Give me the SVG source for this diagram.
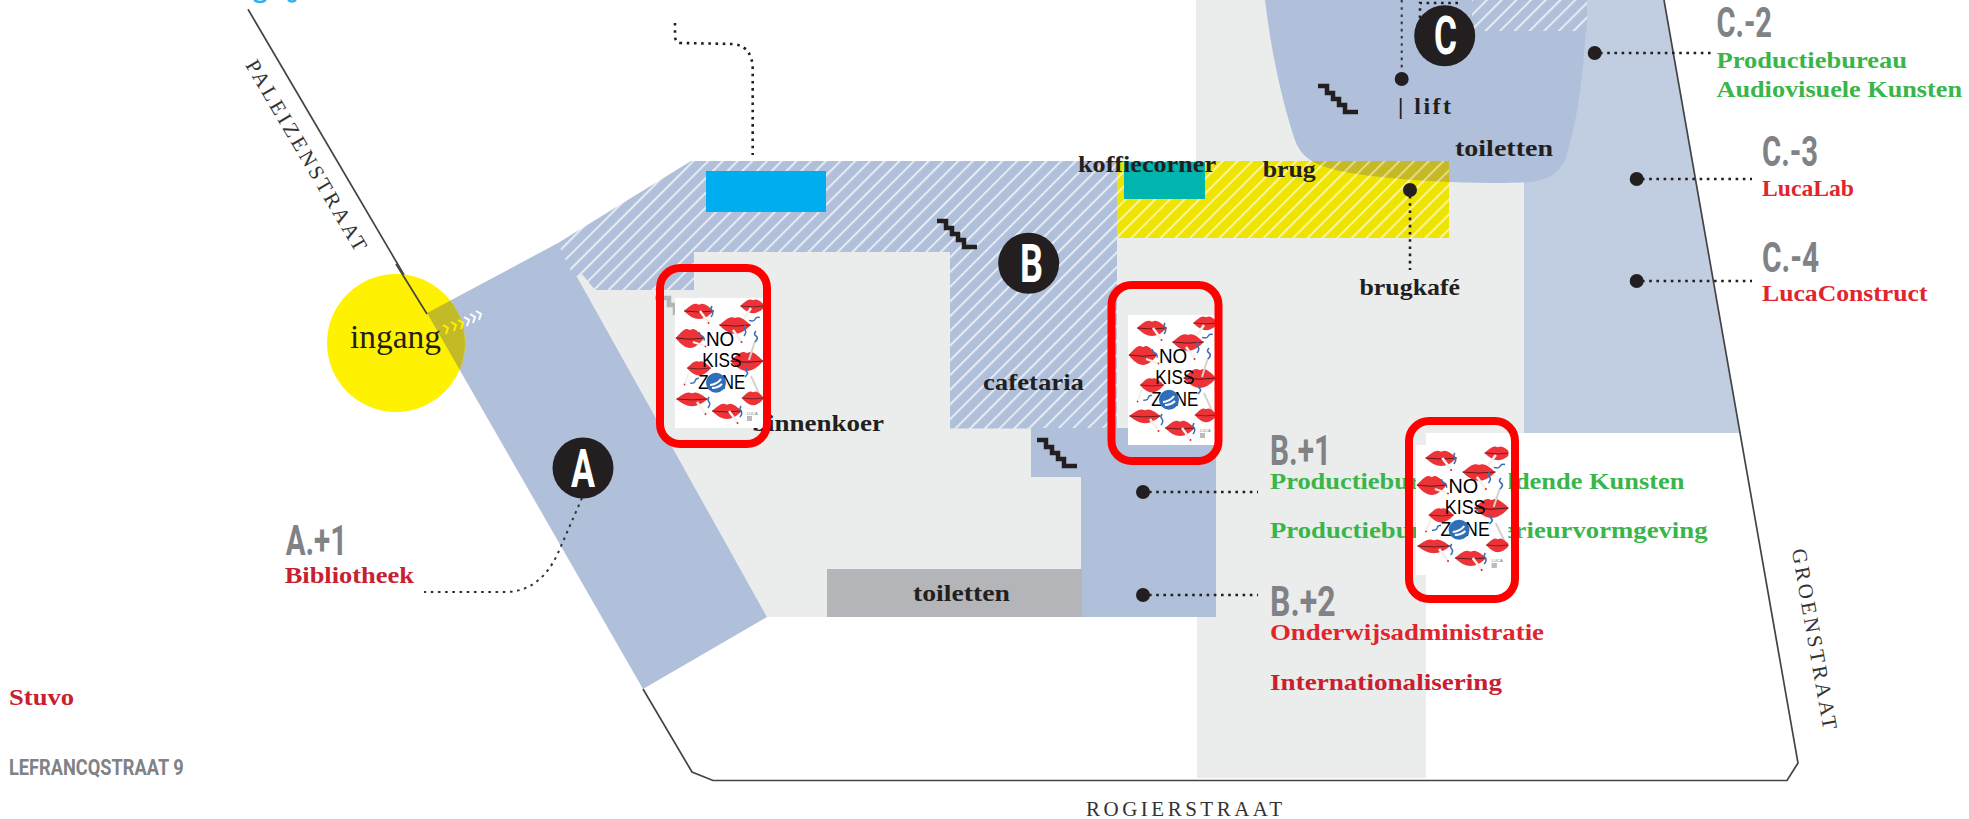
<svg xmlns="http://www.w3.org/2000/svg" xmlns:xlink="http://www.w3.org/1999/xlink" width="1969" height="819" viewBox="0 0 1969 819">
<style>
.s{font-family:"Liberation Serif","DejaVu Serif",serif;font-weight:700;fill:#231f20;font-size:24px}
.g{fill:#39b54a}
.r{fill:#e0252f}
.r2{fill:#c8202f}
.c{font-family:"Liberation Sans Narrow","Roboto","Liberation Sans",sans-serif;font-weight:700;fill:#808285;font-size:42px}
.st{font-family:"Liberation Serif","DejaVu Serif",serif;fill:#333;font-size:21px}
.let{font-family:"Liberation Sans Narrow","Roboto","Liberation Sans",sans-serif;font-weight:700;fill:#fff;font-size:54px}
.dot{fill:none;stroke:#231f20;stroke-width:2.6;stroke-dasharray:2.6 4.6}
.thin{stroke-width:2;stroke:#333}
.n{fill:#231f20}
.line{fill:none;stroke:#444;stroke-width:1.7}
.stair{fill:none;stroke:#231f20;stroke-width:4.5}
.rim{fill:none;stroke:#f00;stroke-width:8}
.ch{fill:none;stroke-width:2}
.pt{font-family:"Liberation Sans",Arial,sans-serif;fill:#000;font-size:20px}
</style>
<defs>
<pattern id="hb" width="10.4" height="10.4" patternUnits="userSpaceOnUse" patternTransform="rotate(45)"><rect width="10.4" height="10.4" fill="#b1c0da"/><rect width="2" height="10.4" fill="#e6ebf3"/></pattern>
<pattern id="hy" width="10.4" height="10.4" patternUnits="userSpaceOnUse" patternTransform="rotate(45)"><rect width="10.4" height="10.4" fill="#efe300"/><rect width="2" height="10.4" fill="#f9f4a0"/></pattern>
<pattern id="ho" width="10.4" height="10.4" patternUnits="userSpaceOnUse" patternTransform="rotate(45)"><rect width="10.4" height="10.4" fill="#c6b926"/><rect width="2" height="10.4" fill="#e3dc85"/></pattern>
<clipPath id="cDark"><path d="M1265,0C1272,60 1285,110 1295,140C1303,165 1330,172 1390,178C1430,182 1470,183 1505,183C1540,183 1555,180 1565,160C1578,120 1585,70 1587,0Z"/></clipPath>
<clipPath id="cBand"><polygon points="427,313 558,243 767,617 643,689"/></clipPath>
<clipPath id="cPoster"><rect width="88" height="130"/></clipPath>
<path id="stair" class="stair" d="M0,2H9V9H15V15H21V21H27V28H40"/>
<g id="lip"><path d="M-15,0C-10,-4 -6,-8 -2,-7Q0,-6 2,-7C6,-8 11,-3 15,0C10,5 5,8 0,8C-5,8 -10,5 -15,0Z" fill="#ee3338"/><path d="M-15,0Q0,2 15,0" fill="none" stroke="#4a1518" stroke-width=".8"/></g>
<g id="cig"><path d="M0,0L8,11" stroke="#f4f0ec" stroke-width="2.4"/><circle cx="8.5" cy="12" r="1" fill="#e0252f"/><path d="M12,-5q-2,3 0,5t-1,6" fill="none" stroke="#3a6fb8" stroke-width="1.5"/></g>
<g id="poster">
<rect width="88" height="130" fill="#fff"/>
<g clip-path="url(#cPoster)">
<use href="#lip" transform="translate(24,13)"/><use href="#cig" transform="translate(25,13)"/>
<use href="#lip" transform="translate(78,8) scale(.85,.9)"/><use href="#cig" transform="translate(76,10) rotate(70)"/>
<use href="#lip" transform="translate(60,27) scale(1.05,1.1)"/><use href="#cig" transform="translate(58,32) rotate(0)"/>
<use href="#lip" transform="translate(15,40) scale(.95,1.25)"/><use href="#cig" transform="translate(18,44) rotate(-35) scale(.9)"/>
<use href="#lip" transform="translate(72,63) scale(1.1,1.25)"/><use href="#lip" transform="translate(24,70) scale(.8,.95)"/><use href="#cig" transform="translate(14,74) rotate(55) scale(.9)"/>
<path d="M80,43L74,62M76,78L86,100" stroke="#d8d2cc" stroke-width="2"/><path d="M81,33q-3,3 0,5t-1,6M72,70q-2,3 0,4t-2,5" fill="none" stroke="#3a6fb8" stroke-width="1.6"/>
<use href="#lip" transform="translate(17,101) scale(1.05,.9)"/><use href="#cig" transform="translate(22,104)"/>
<use href="#lip" transform="translate(78,100) scale(.75,.9)"/><use href="#lip" transform="translate(52,113)"/><use href="#cig" transform="translate(54,113) rotate(0)"/>
</g>
<text class="pt" x="31" y="47.7" textLength="28.3" lengthAdjust="spacingAndGlyphs">NO</text>
<text class="pt" x="27.3" y="69" textLength="39" lengthAdjust="spacingAndGlyphs">KISS</text>
<text class="pt" x="23.3" y="91" textLength="47" lengthAdjust="spacingAndGlyphs">ZONE</text>
<circle cx="41" cy="84.7" r="10" fill="#2f6eba"/><path d="M35,87C39,87 44,84 46,81M37,90C41,90 45,88 47,86" fill="none" stroke="#fff" stroke-width="2"/>
<text x="72" y="117" font-family="Liberation Sans,sans-serif" font-size="4" fill="#777">LUCA</text><rect x="72" y="118" width="5" height="5" fill="#bbb"/>
</g>
</defs>

<g id="building">
<polygon id="courtyard" fill="#ebedec" points="574,278 700,200 1117,200 1117,238 1196,238 1196,0 1524,0 1524,433 1426,433 1426,778 1197,778 1197,617 767,617"/>
<polygon id="wing-c-light" fill="#c1cde0" points="1524,0 1664,0 1740,433 1524,433"/>
<polygon id="wing-a" fill="#b1c0da" points="427,313 558,243 767,617 643,689"/>
<polygon id="hatch-b" fill="url(#hb)" points="691,161 1117,161 1117,428.500 950,428.500 950,252 694,252 694,290 595,290 582,274 574,278 558,243"/>
<polygon id="wing-b" fill="#b1c0da" points="1031,428 1216,428 1216,617 1081,617 1081,477 1031,477"/>
<rect id="toilet-b" x="827" y="569" width="255" height="48" fill="#b3b5b8"/>
<path id="wing-c" fill="#b1c0da" d="M1265,0C1272,60 1285,110 1295,140C1303,165 1330,172 1390,178C1430,182 1470,183 1505,183C1540,183 1555,180 1565,160C1578,120 1585,70 1587,0Z"/>
<rect id="hatch-c" x="1472" y="0" width="115" height="31" fill="url(#hb)"/>
<rect id="bridge" x="1117" y="161" width="332" height="77" fill="url(#hy)"/>
<rect id="bridge-overlap" x="1117" y="161" width="332" height="77" fill="url(#ho)" clip-path="url(#cDark)"/>
<rect id="cyan-room" x="706" y="171" width="120" height="41" fill="#00aeef"/>
<rect id="teal-room" x="1124" y="162" width="81" height="37" fill="#00b5ad"/>
<path class="line" d="M248,9.300L427,314"/>
<path class="line" d="M643,689L692,772L713,780.500H1787L1798,763L1664,0"/>
<use href="#stair" x="937" y="219"/>
<use href="#stair" x="1037" y="438"/>
<use href="#stair" x="1318" y="84"/>
<path d="M655,298H669V305H675V315" fill="none" stroke="#b3b5b8" stroke-width="4.500"/>
</g>

<path id="top-fragments" d="M254,0Q260,4 266,0M288,0Q292,3 296,0" fill="none" stroke="#2bb3ee" stroke-width="2.400"/>

<g id="connectors">
<path class="dot" d="M675,23V36Q675,43 682,43L733,44Q752,46 752.700,68V155"/>
<path class="dot thin" d="M1401.700,0V72"/>
<path class="dot" d="M1420,18V3H1458"/>
<path class="dot" d="M1600,53H1711"/>
<path class="dot" d="M1642,179H1752"/>
<path class="dot" d="M1642,281H1752"/>
<path class="dot" d="M1410,196V270"/>
<path class="dot" d="M1149,492H1258"/>
<path class="dot" d="M1149,595H1258"/>
<path class="dot thin" d="M582,498L558,553Q540,592 505,592H424"/>
</g>

<g id="node-ingang">
<circle cx="396" cy="343" r="69" fill="#fff200"/>
<circle cx="396" cy="343" r="69" fill="#c3ba27" clip-path="url(#cBand)"/>
<path class="line" d="M396,264L427,314" stroke="#222"/>
<text x="350" y="348" font-family="Liberation Serif,serif" font-size="33" fill="#231f20" textLength="91" lengthAdjust="spacingAndGlyphs">ingang</text>
<g class="ch" stroke="#fff200"><path d="M443,325l5,3l-2,6M451,322l5,3l-2,6M458,320l5,3l-2,6"/></g>
<g class="ch" stroke="#fff"><path d="M464,317l5,3l-2,6M470,314l5,3l-2,6M476,311l5,3l-2,6"/></g>
</g>

<g id="streets">
<text class="st" transform="translate(245,65) rotate(59.500)" textLength="218" lengthAdjust="spacing">PALEIZENSTRAAT</text>
<text class="st" transform="translate(1791.700,550) rotate(80)" textLength="183" lengthAdjust="spacing">GROENSTRAAT</text>
<text class="st" x="1086" y="816" textLength="196" lengthAdjust="spacing">ROGIERSTRAAT</text>
</g>

<g id="node-A"><circle cx="583" cy="468" r="30.500" class="n"/><text class="let" x="571" y="487" textLength="24" lengthAdjust="spacingAndGlyphs">A</text></g>
<g id="node-B"><circle cx="1028.700" cy="263.300" r="30.500" class="n"/><text class="let" x="1020" y="282" textLength="23" lengthAdjust="spacingAndGlyphs">B</text></g>
<g id="node-C"><circle cx="1444.700" cy="35.700" r="30.500" class="n"/><text class="let" x="1434" y="54" textLength="23" lengthAdjust="spacingAndGlyphs">C</text></g>

<g id="anchors" class="n">
<circle cx="1401.700" cy="79" r="7"/><circle cx="1594.700" cy="53" r="7"/><circle cx="1636.700" cy="179" r="7"/><circle cx="1636.700" cy="281" r="7"/><circle cx="1410" cy="190" r="7"/><circle cx="1143" cy="492" r="7"/><circle cx="1143" cy="595" r="7"/>
</g>

<g id="places">
<text class="s" x="1078" y="172" textLength="138" lengthAdjust="spacingAndGlyphs">koffiecorner</text>
<text class="s" x="1262.700" y="176.700" textLength="53" lengthAdjust="spacingAndGlyphs">brug</text>
<text class="s" x="1455" y="155.700" textLength="98" lengthAdjust="spacingAndGlyphs">toiletten</text>
<text class="s" x="1398" y="114" textLength="53" lengthAdjust="spacing">| lift</text>
<text class="s" x="1359.500" y="295" textLength="100.500" lengthAdjust="spacingAndGlyphs">brugkafé</text>
<text class="s" x="983" y="390" textLength="101" lengthAdjust="spacingAndGlyphs">cafetaria</text>
<text class="s" x="752" y="431" textLength="132" lengthAdjust="spacingAndGlyphs">binnenkoer</text>
<text class="s" x="913" y="601" textLength="97" lengthAdjust="spacingAndGlyphs">toiletten</text>
</g>

<g id="label-C2"><text class="c" x="1716.500" y="36.500" textLength="55.500" lengthAdjust="spacingAndGlyphs">C.-2</text><text class="s g" x="1716.500" y="67.700" textLength="190.500" lengthAdjust="spacingAndGlyphs">Productiebureau</text><text class="s g" x="1716.500" y="96.700" textLength="245.500" lengthAdjust="spacingAndGlyphs">Audiovisuele Kunsten</text></g>
<g id="label-C3"><text class="c" x="1762" y="165.500" textLength="56" lengthAdjust="spacingAndGlyphs">C.-3</text><text class="s r" x="1762" y="196" textLength="92" lengthAdjust="spacingAndGlyphs">LucaLab</text></g>
<g id="label-C4"><text class="c" x="1762" y="271.500" textLength="57" lengthAdjust="spacingAndGlyphs">C.-4</text><text class="s r" x="1762" y="301" textLength="165.500" lengthAdjust="spacingAndGlyphs">LucaConstruct</text></g>
<g id="label-B1"><text class="c" x="1270" y="465" textLength="61" lengthAdjust="spacingAndGlyphs">B.+1</text><text class="s g" x="1270" y="489" textLength="414.500" lengthAdjust="spacingAndGlyphs">Productiebureau Beeldende Kunsten</text><text class="s g" x="1270" y="538" textLength="437.500" lengthAdjust="spacingAndGlyphs">Productiebureau Interieurvormgeving</text></g>
<g id="label-B2"><text class="c" x="1270" y="616" textLength="65.500" lengthAdjust="spacingAndGlyphs">B.+2</text><text class="s r" x="1270" y="640" textLength="274" lengthAdjust="spacingAndGlyphs">Onderwijsadministratie</text><text class="s r2" x="1270" y="690" textLength="232" lengthAdjust="spacingAndGlyphs">Internationalisering</text></g>
<g id="label-A1"><text class="c" x="285.700" y="555" textLength="61.500" lengthAdjust="spacingAndGlyphs">A.+1</text><text class="s r2" x="284.700" y="583" textLength="129.300" lengthAdjust="spacingAndGlyphs">Bibliotheek</text></g>
<g id="label-stuvo"><text class="s r2" x="9" y="705" textLength="65" lengthAdjust="spacingAndGlyphs">Stuvo</text><text class="c" style="font-size:22px" x="9" y="775" textLength="174.700" lengthAdjust="spacingAndGlyphs">LEFRANCQSTRAAT 9</text></g>

<g id="poster-1"><use href="#poster" transform="translate(675,298)"/><rect class="rim" x="660" y="268" width="107" height="176" rx="20"/></g>
<g id="poster-2"><use href="#poster" transform="translate(1128,315)"/><rect class="rim" x="1111.500" y="285" width="107" height="176" rx="20"/></g>
<g id="poster-3"><use href="#poster" transform="translate(1416,445) scale(1.05,1)"/><rect class="rim" x="1409" y="421" width="106" height="178" rx="20"/></g>
</svg>
